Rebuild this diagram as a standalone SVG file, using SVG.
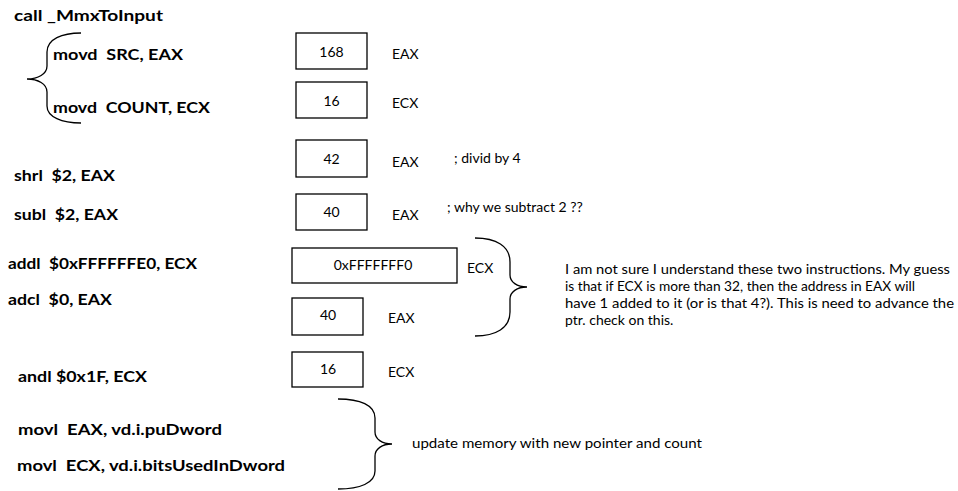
<svg xmlns="http://www.w3.org/2000/svg" width="958" height="491" viewBox="0 0 958 491">
  <style>
    .ins { font-family: Lato, "Open Sans", sans-serif; font-weight: bold; font-size: 16px; fill: #000; }
    .txt { font-family: Lato, "Open Sans", sans-serif; font-size: 14px; fill: #000; }
    .val { font-family: Lato, "Open Sans", sans-serif; font-size: 14px; fill: #000; text-anchor: middle; }
    .box { fill: #fff; stroke: #000; stroke-width: 1.3; }
    .brace { fill: none; stroke: #000; stroke-width: 1.3; }
  </style>
  <rect width="958" height="491" fill="#fff"/>

  <!-- instruction listing -->
  <g id="instructions">
    <text class="ins" x="14" y="21" textLength="149" lengthAdjust="spacingAndGlyphs">call _MmxToInput</text>
    <text class="ins" x="53" y="60" textLength="130" lengthAdjust="spacingAndGlyphs" xml:space="preserve">movd  SRC, EAX</text>
    <text class="ins" x="53" y="113" textLength="157" lengthAdjust="spacingAndGlyphs" xml:space="preserve">movd  COUNT, ECX</text>
    <text class="ins" x="14" y="181" textLength="101" lengthAdjust="spacingAndGlyphs" xml:space="preserve">shrl  $2, EAX</text>
    <text class="ins" x="14" y="220" textLength="104" lengthAdjust="spacingAndGlyphs" xml:space="preserve">subl  $2, EAX</text>
    <text class="ins" x="8" y="269" textLength="189" lengthAdjust="spacingAndGlyphs" xml:space="preserve">addl  $0xFFFFFFE0, ECX</text>
    <text class="ins" x="8" y="305" textLength="104" lengthAdjust="spacingAndGlyphs" xml:space="preserve">adcl  $0, EAX</text>
    <text class="ins" x="18" y="382" textLength="129" lengthAdjust="spacingAndGlyphs">andl $0x1F, ECX</text>
    <text class="ins" x="18" y="435" textLength="204" lengthAdjust="spacingAndGlyphs" xml:space="preserve">movl  EAX, vd.i.puDword</text>
    <text class="ins" x="17" y="471" textLength="268" lengthAdjust="spacingAndGlyphs" xml:space="preserve">movl  ECX, vd.i.bitsUsedInDword</text>
  </g>

  <!-- register value boxes -->
  <g id="reg-168">
    <rect class="box" x="296" y="33" width="71" height="36"/>
    <text class="val" x="331.5" y="57">168</text>
    <text class="txt" x="392" y="59">EAX</text>
  </g>
  <g id="reg-16a">
    <rect class="box" x="296" y="82" width="71" height="36"/>
    <text class="val" x="331.5" y="106">16</text>
    <text class="txt" x="392" y="108">ECX</text>
  </g>
  <g id="reg-42">
    <rect class="box" x="296" y="140" width="71" height="37"/>
    <text class="val" x="331.5" y="164">42</text>
    <text class="txt" x="392" y="167">EAX</text>
    <text class="txt" x="454" y="163">; divid by 4</text>
  </g>
  <g id="reg-40a">
    <rect class="box" x="296" y="194" width="71" height="36"/>
    <text class="val" x="331.5" y="217">40</text>
    <text class="txt" x="392" y="220">EAX</text>
    <text class="txt" x="447" y="212">; why we subtract 2 ??</text>
  </g>
  <g id="reg-fff0">
    <rect class="box" x="292" y="248" width="165" height="35"/>
    <text class="val" x="373" y="270">0xFFFFFFF0</text>
    <text class="txt" x="467" y="273">ECX</text>
  </g>
  <g id="reg-40b">
    <rect class="box" x="292" y="298" width="71" height="37"/>
    <text class="val" x="328" y="320">40</text>
    <text class="txt" x="388" y="323">EAX</text>
  </g>
  <g id="reg-16b">
    <rect class="box" x="292" y="352" width="71" height="35"/>
    <text class="val" x="328" y="374">16</text>
    <text class="txt" x="388" y="377">ECX</text>
  </g>

  <!-- notes -->
  <g id="note-carry">
    <text class="txt" x="565" y="274" textLength="385" lengthAdjust="spacingAndGlyphs">I am not sure I understand these two instructions. My guess</text>
    <text class="txt" x="565" y="291" textLength="350" lengthAdjust="spacingAndGlyphs">is that if ECX is more than 32, then the address in EAX will</text>
    <text class="txt" x="565" y="308" textLength="389" lengthAdjust="spacingAndGlyphs">have 1 added to it (or is that 4?). This is need to advance the</text>
    <text class="txt" x="565" y="325">ptr. check on this.</text>
  </g>
  <g id="note-update">
    <text class="txt" x="412" y="448" textLength="290" lengthAdjust="spacingAndGlyphs">update memory with new pointer and count</text>
  </g>

  <!-- braces -->
  <g id="connectors">
    <path class="brace" d="M81,33 C62,33 47,39 47,52 L47,66 C47,74 38,79 27,79 C38,79 47,84 47,92 L47,106 C47,117 62,123 81,123"/>
    <path class="brace" d="M475,238 C496,238 510,246 510,262 L510,275 C510,282 517,287 527,287 C517,287 510,292 510,299 L510,312 C510,328 496,336 475,336"/>
    <path class="brace" d="M338,399 C360,399 375,405 375,418 L375,432 C375,439 382,444 392,444 C382,444 375,449 375,456 L375,471 C375,483 360,489 338,489"/>
  </g>
</svg>
